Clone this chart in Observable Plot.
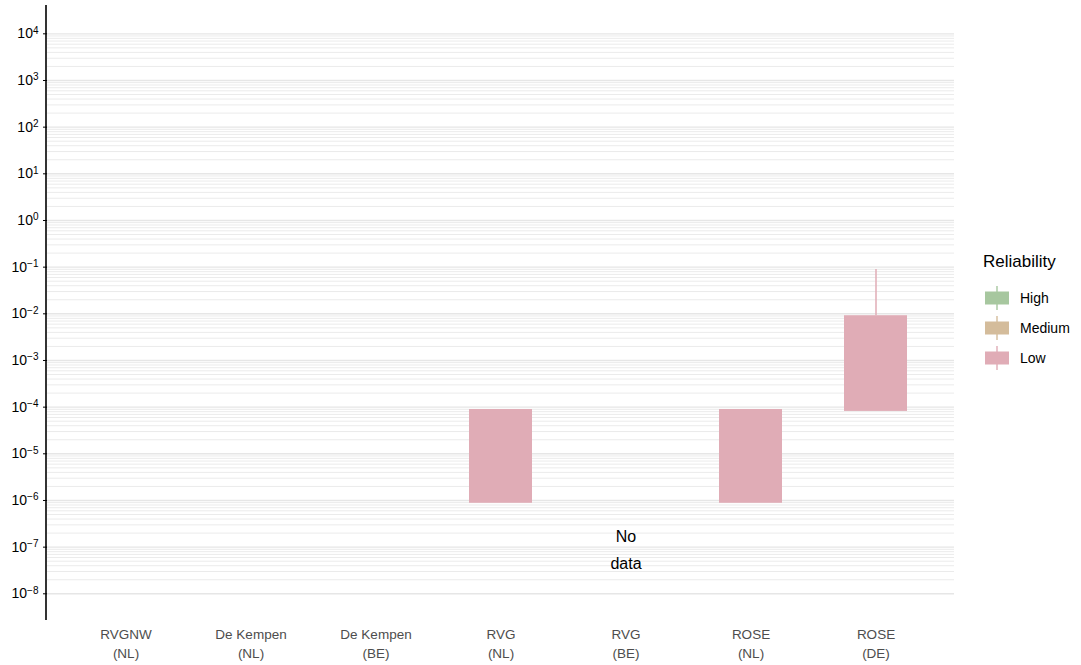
<!DOCTYPE html>
<html><head><meta charset="utf-8">
<script src="https://cdn.jsdelivr.net/npm/d3@7"></script>
<script src="https://cdn.jsdelivr.net/npm/@observablehq/plot@0.6"></script>
<style>
body{margin:0;background:#fff;font-family:"Liberation Sans",Arial,sans-serif;}
#wrap{position:relative;width:1081px;height:665px;}
#legend{position:absolute;left:983px;top:252px;color:#000;}
#legend .title{font-size:17px;margin-bottom:11px;}
#legend .item{display:flex;align-items:center;height:30px;font-size:14px;}
#legend .item svg{margin-right:9px;}
</style></head><body><div id="wrap"></div>
<script>
// ---- data ----
const sites = ["RVGNW\n(NL)", "De Kempen\n(NL)", "De Kempen\n(BE)", "RVG\n(NL)", "RVG\n(BE)", "ROSE\n(NL)", "ROSE\n(DE)"];
const reliabilityLevels = ["High", "Medium", "Low"];
const reliabilityColors = ["#a7c79f", "#d4bc9b", "#e0acb6"];
const barSites = ["RVG\n(NL)", "ROSE\n(NL)", "ROSE\n(DE)"];
const barLow = [8.7e-7, 8.7e-7, 8.1e-5];
const barHigh = [8.9e-5, 8.9e-5, 9.1e-3];
const barReliability = ["Low", "Low", "Low"];
const whiskerSites = ["ROSE\n(DE)"];
const whiskerFrom = [9.1e-3];
const whiskerTo = [0.089];
const noDataSites = ["RVG\n(BE)"];
const noDataY = [1.0e-7];
const noDataLabel = ["No\ndata"];
const yTickExponents = [-8, -7, -6, -5, -4, -3, -2, -1, 0, 1, 2, 3, 4];
const gridMultipliers = [1, 2, 3, 4, 5, 6, 7, 8, 9];

// ---- derived tables ----
const bars = barSites.map((s, i) => ({site: s, low: barLow[i], high: barHigh[i], rel: barReliability[i]}));
const whiskers = whiskerSites.map((s, i) => ({site: s, from: whiskerFrom[i], to: whiskerTo[i], rel: "Low"}));
const noData = noDataSites.map((s, i) => ({site: s, y: noDataY[i], label: noDataLabel[i]}));
const yTicks = yTickExponents.map(e => Math.pow(10, e));
const gridMajor = yTicks;
const gridMinor = [];
yTickExponents.slice(0, -1).forEach(e => gridMultipliers.slice(1).forEach(k => gridMinor.push(k * Math.pow(10, e))));

const fmt = d => "10^" + Math.round(Math.log10(d));

const colorScale = {domain: reliabilityLevels, range: reliabilityColors};

const axisLine = (index, scales, values, dims) => {
  const l = document.createElementNS("http://www.w3.org/2000/svg", "line");
  l.setAttribute("x1", dims.marginLeft - 1);
  l.setAttribute("x2", dims.marginLeft - 1);
  l.setAttribute("y1", dims.marginTop);
  l.setAttribute("y2", dims.height - dims.marginBottom);
  l.setAttribute("stroke", "#000");
  l.setAttribute("stroke-width", 1.6);
  return l;
};

const chart = Plot.plot({
  width: 1081,
  height: 665,
  marginLeft: 47,
  marginRight: 127,
  marginTop: 5,
  marginBottom: 45,
  style: {fontFamily: "Liberation Sans, Arial, sans-serif", fontSize: "13px", background: "#fff"},
  x: {type: "band", domain: sites, paddingInner: 0.5, paddingOuter: 0.35, label: null},
  y: {type: "log", domain: [Math.pow(10, -8.572), Math.pow(10, 4.607)], label: null},
  color: colorScale,
  marks: [
    Plot.ruleY(gridMinor, {stroke: "#ebebeb", strokeWidth: 1}),
    Plot.ruleY(gridMajor, {stroke: "#e6e6e6", strokeWidth: 1.4}),
    Plot.barY(bars, {x: "site", y1: "low", y2: "high", fill: "rel"}),
    Plot.ruleX(whiskers, {x: "site", y1: "from", y2: "to", stroke: "rel", strokeWidth: 1.5}),
    Plot.text(noData, {x: "site", y: "y", text: "label", fontSize: 16, lineHeight: 1.65, fill: "#000"}),
    Plot.axisY(yTicks, {tickSize: 4, tickPadding: 5, tickFormat: fmt, fontSize: 14, color: "#000", label: null}),
    Plot.axisX({tickSize: 0, tickPadding: 6, fontSize: 13.5, fill: "#4d4d4d", lineHeight: 1.35, label: null}),
    axisLine
  ]
});

// superscript exponents on y tick labels
d3.select(chart).selectAll('g[aria-label="y-axis tick label"] text').each(function() {
  const t = this.textContent;
  const m = t.match(/^10\^(-?\d+)$/);
  if (!m) return;
  const exp = m[1].replace("-", "\u2212");
  this.textContent = "";
  const sel = d3.select(this);
  sel.append("tspan").text("10");
  sel.append("tspan").attr("dy", "-0.45em").attr("font-size", "10px").text(exp);
});

const wrap = document.getElementById("wrap");
wrap.appendChild(chart);

// legend
const legend = document.createElement("div");
legend.id = "legend";
let html = '<div class="title">Reliability</div>';
reliabilityLevels.forEach((lv, i) => {
  const c = reliabilityColors[i];
  html += `<div class="item"><svg width="28" height="26"><line x1="14" x2="14" y1="1" y2="25" stroke="${c}" stroke-width="1.4"/><rect x="2" y="6.5" width="24" height="13" fill="${c}"/></svg><span>${lv}</span></div>`;
});
legend.innerHTML = html;
wrap.appendChild(legend);
</script>
</body></html>
